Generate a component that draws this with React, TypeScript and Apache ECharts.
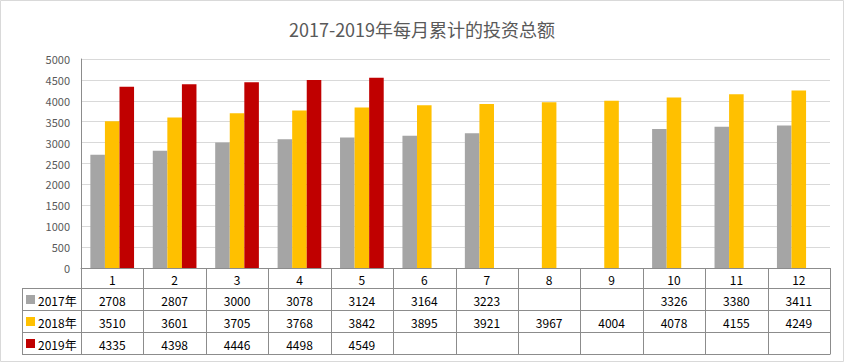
import React, { useEffect, useRef } from "react";
import * as echarts from "echarts";

const months = ["1", "2", "3", "4", "5", "6", "7", "8", "9", "10", "11", "12"];
const seriesNames = ["2017年", "2018年", "2019年"];
const data2017: (number | null)[] = [2708, 2807, 3000, 3078, 3124, 3164, 3223, null, null, 3326, 3380, 3411];
const data2018: (number | null)[] = [3510, 3601, 3705, 3768, 3842, 3895, 3921, 3967, 4004, 4078, 4155, 4249];
const data2019: (number | null)[] = [4335, 4398, 4446, 4498, 4549, null, null, null, null, null, null, null];
const colors = ["#A5A5A5", "#FFC000", "#C00000"];
const titleText = "2017-2019年每月累计的投资总额";

export default function App() {
  const ref = useRef<HTMLDivElement>(null);
  useEffect(() => {
    document.body.style.margin = "0";
    const chart = echarts.init(ref.current!, null, { renderer: "svg" });
    const W = 844, H = 362;
    const gLeft = 81, gRight = 830, gTop = 59, gBottom = 268;
    const tableLeft = 22;
    const rowH = 22;
    const catRowBottom = 288;
    const tableBottom = catRowBottom + rowH * 3;
    const colW = (gRight - gLeft) / months.length;
    const lineColor = "#8C8C8C";
    const font = "'Noto Sans CJK SC', 'Noto Sans', sans-serif";
    const all = [data2017, data2018, data2019];

    const graphics: any[] = [];
    graphics.push({
      type: "rect",
      shape: { x: 0.5, y: 0.5, width: W - 1, height: H - 1 },
      style: { fill: "none", stroke: "#D9D9D9", lineWidth: 1 },
      silent: true,
    });
    const hy = [catRowBottom, catRowBottom + rowH, catRowBottom + rowH * 2, tableBottom];
    hy.forEach((y) => {
      graphics.push({
        type: "line",
        shape: { x1: tableLeft, y1: y + 0.5, x2: gRight, y2: y + 0.5 },
        style: { stroke: lineColor, lineWidth: 1 },
        silent: true,
      });
    });
    graphics.push({
      type: "line",
      shape: { x1: tableLeft + 0.5, y1: catRowBottom, x2: tableLeft + 0.5, y2: tableBottom + 0.5 },
      style: { stroke: lineColor, lineWidth: 1 },
      silent: true,
    });
    for (let i = 0; i <= months.length; i++) {
      const x = Math.round(gLeft + i * colW) + 0.5;
      graphics.push({
        type: "line",
        shape: { x1: x, y1: gBottom, x2: x, y2: tableBottom + 0.5 },
        style: { stroke: lineColor, lineWidth: 1 },
        silent: true,
      });
    }
    seriesNames.forEach((name, r) => {
      const cy = catRowBottom + rowH * r + rowH / 2 + 1;
      graphics.push({
        type: "rect",
        shape: { x: 26, y: cy - 5, width: 9, height: 9 },
        style: { fill: colors[r] },
        silent: true,
      });
      graphics.push({
        type: "text",
        x: 38,
        y: cy,
        style: { text: name, font: `12px ${font}`, fill: "#000", verticalAlign: "middle", align: "left" },
        silent: true,
      });
      all[r].forEach((v, i) => {
        if (v == null) return;
        graphics.push({
          type: "text",
          x: gLeft + (i + 0.5) * colW,
          y: cy,
          style: { text: String(v), font: `12px ${font}`, fill: "#000", verticalAlign: "middle", align: "center" },
          silent: true,
        });
      });
    });

    chart.setOption({
      animation: false,
      title: {
        text: titleText,
        left: "center",
        top: 15,
        textStyle: { fontSize: 18, fontWeight: "normal", color: "#595959", fontFamily: font },
      },
      grid: { left: gLeft, right: W - gRight, top: gTop, bottom: H - gBottom, containLabel: false },
      xAxis: {
        type: "category",
        data: months,
        axisLine: { show: true, lineStyle: { color: lineColor } },
        axisTick: { show: false },
        axisLabel: { color: "#000", fontSize: 12, margin: 5, fontFamily: font },
        splitLine: { show: false },
      },
      yAxis: {
        type: "value",
        min: 0,
        max: 5000,
        interval: 500,
        axisLine: { show: true, lineStyle: { color: lineColor } },
        axisTick: { show: false },
        axisLabel: { color: "#595959", fontSize: 11, margin: 11, fontFamily: font, formatter: (v: number) => String(v) },
        splitLine: { lineStyle: { color: "#D9D9D9" } },
      },
      series: seriesNames.map((name, r) => ({
        name,
        type: "bar",
        data: all[r],
        itemStyle: { color: colors[r] },
        barGap: "0%",
        barCategoryGap: "30%",
      })),
      graphic: graphics,
    });
    return () => chart.dispose();
  }, []);
  return <div ref={ref} style={{ width: 844, height: 362 }} />;
}
